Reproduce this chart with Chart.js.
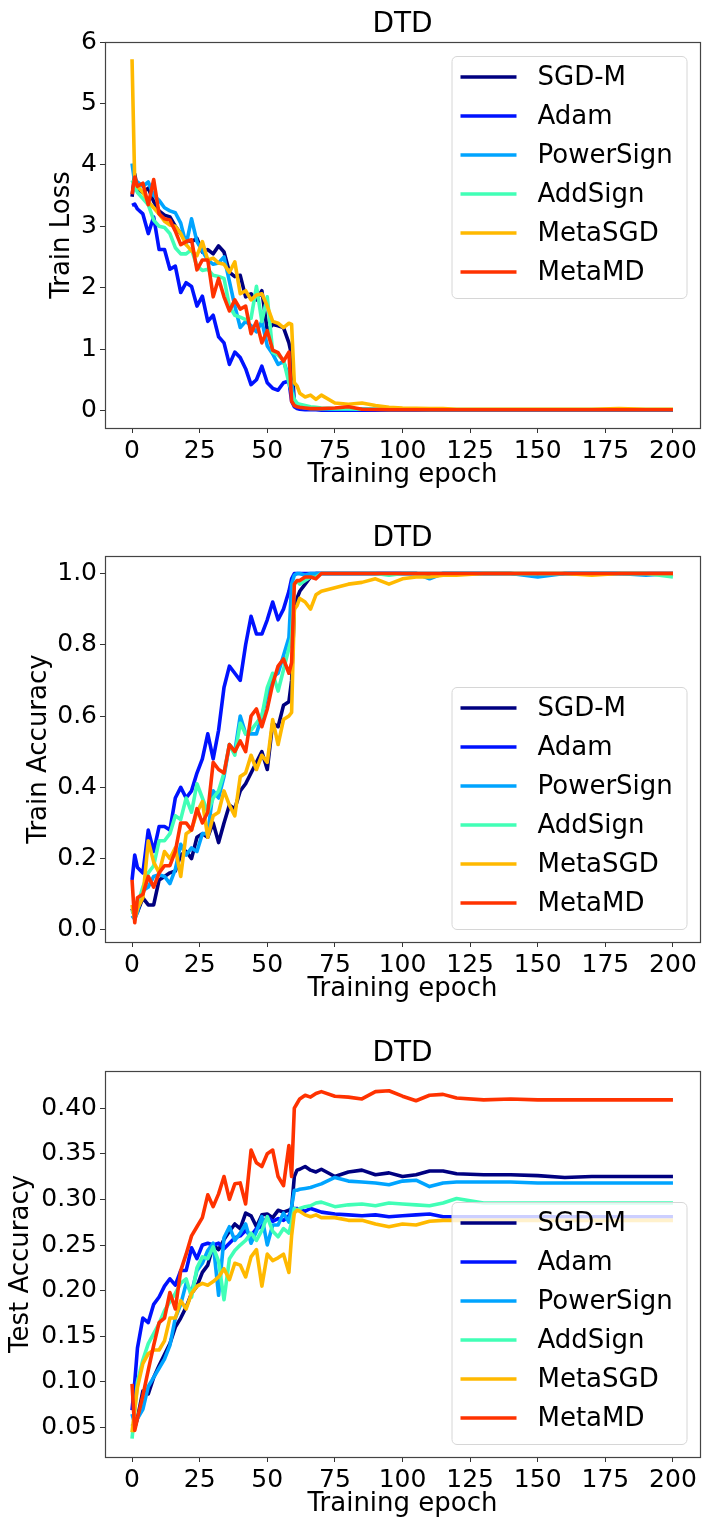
<!DOCTYPE html>
<html>
<head>
<meta charset="utf-8">
<script src="https://cdn.jsdelivr.net/npm/chart.js@4.4.1/dist/chart.umd.min.js"></script>
<style>
  body { margin: 0; background: #fff; width: 704px; height: 1520px; position: relative; overflow: hidden; }
  canvas { position: absolute; left: 0; }
</style>
</head>
<body>
<canvas id="loss" width="704" height="514" style="top:0;width:704px;height:514px"></canvas>
<canvas id="acc" width="704" height="514" style="top:514px;width:704px;height:514px"></canvas>
<canvas id="test" width="704" height="491" style="top:1029px;width:704px;height:491px"></canvas>
<script>
const names = ['SGD-M', 'Adam', 'PowerSign', 'AddSign', 'MetaSGD', 'MetaMD'];
const colors = ['#000080', '#0012ff', '#00a4ff', '#41ffb6', '#ffb900', '#ff3200'];

const epochs = [0,1,2,4,6,8,10,12,14,16, 18,20,22,24,26,28,30,32,34,36, 38,40,42,44,46,48,50,52,54,56,
  58,59,60,61,62,64,66,68,70,75, 80,85,90,95,100,105,110,115,120,130, 140,150,160,170,180,190,200];
const epochTicks = [0, 25, 50, 75, 100, 125, 150, 175, 200];

// train loss
const lossSGDM = [3.48,3.85,3.60,3.55,3.62,3.40,3.25,3.18,3.15,3.00, 2.88,2.78,2.75,2.80,2.58,2.62,2.55,2.68,2.58,2.25,
  2.18,2.20,1.85,1.90,1.80,1.95,1.30,1.40,1.38,1.35, 1.10,0.90,0.10,0.06,0.05,0.04,0.03,0.03,0.02,0.02,
  0.02,0.02,0.01,0.01,0.01,0.01,0.01,0.01,0.01,0.01, 0.01,0.01,0.01,0.01,0.01,0.01,0.01];
const lossAdam = [3.34,3.36,3.28,3.20,2.88,3.15,2.62,2.62,2.30,2.35, 1.92,2.08,2.02,1.70,1.86,1.45,1.55,1.20,1.10,0.75,
  0.95,0.86,0.68,0.42,0.50,0.72,0.45,0.36,0.33,0.45, 0.48,0.15,0.06,0.03,0.02,0.01,0.01,0.01,0.005,0.005,
  0.005,0.005,0.005,0.005,0.005,0.005,0.005,0.005,0.005,0.005, 0.005,0.005,0.005,0.005,0.005,0.005,0.005];
const lossPower = [4.02,3.70,3.72,3.65,3.72,3.50,3.42,3.30,3.25,3.22, 3.05,2.70,3.12,2.75,2.60,2.45,2.38,2.40,2.50,2.10,
  1.70,1.35,1.45,1.38,1.28,1.45,1.05,0.92,0.75,0.80, 0.55,0.45,0.15,0.08,0.06,0.04,0.03,0.03,0.02,0.02,
  0.02,0.02,0.02,0.01,0.01,0.01,0.01,0.01,0.01,0.01, 0.01,0.01,0.01,0.01,0.01,0.01,0.01];
const lossAdd = [3.75,3.65,3.55,3.45,3.35,3.10,3.00,2.98,2.88,2.65, 2.55,2.55,2.62,2.35,2.28,2.30,2.20,2.18,2.15,1.70,
  1.55,1.52,1.48,1.50,2.02,1.45,1.85,0.95,0.90,0.82, 0.45,0.30,0.18,0.12,0.10,0.08,0.06,0.05,0.04,0.03,
  0.03,0.02,0.02,0.02,0.02,0.02,0.015,0.015,0.015,0.015, 0.015,0.015,0.015,0.015,0.015,0.015,0.015];
const lossMetaSGD = [5.72,3.70,3.65,3.55,3.40,3.30,3.20,3.08,3.02,3.00, 2.88,2.70,2.60,2.52,2.75,2.45,2.48,2.40,2.38,2.25,
  2.42,1.90,1.95,1.80,1.88,1.90,1.70,1.45,1.42,1.35, 1.42,1.40,0.45,0.40,0.28,0.22,0.25,0.18,0.25,0.12,
  0.10,0.12,0.08,0.05,0.04,0.035,0.03,0.03,0.02,0.02, 0.02,0.02,0.02,0.02,0.03,0.02,0.02];
const lossMetaMD = [3.52,3.80,3.65,3.70,3.35,3.76,3.20,3.12,3.10,2.92, 2.70,2.75,2.78,2.29,2.45,2.45,1.85,2.15,1.85,1.62,
  1.80,1.65,1.70,1.25,1.45,1.10,1.30,0.98,0.94,0.80, 0.95,0.15,0.08,0.06,0.05,0.04,0.03,0.03,0.03,0.04,
  0.06,0.02,0.015,0.01,0.01,0.01,0.01,0.01,0.01,0.01, 0.01,0.01,0.01,0.01,0.01,0.01,0.01];
const lossTicks = [0, 1, 2, 3, 4, 5, 6];

// train accuracy
const accSGDM = [0.06,0.035,0.05,0.09,0.07,0.07,0.14,0.15,0.16,0.165, 0.21,0.22,0.20,0.26,0.27,0.26,0.30,0.245,0.30,0.35,
  0.34,0.39,0.41,0.44,0.47,0.50,0.45,0.58,0.57,0.63, 0.64,0.70,0.90,0.93,0.95,0.97,0.99,1.0,1.0,1.0,
  1.0,1.0,1.0,1.0,1.0,1.0,0.995,1.0,1.0,1.0, 1.0,0.995,1.0,1.0,1.0,1.0,1.0];
const accAdam = [0.14,0.21,0.175,0.16,0.28,0.22,0.29,0.29,0.28,0.37, 0.40,0.37,0.39,0.44,0.48,0.55,0.48,0.56,0.68,0.74,
  0.72,0.70,0.80,0.88,0.83,0.83,0.87,0.92,0.87,0.90, 0.95,0.985,1.0,1.0,1.0,1.0,1.0,1.0,1.0,1.0,
  1.0,1.0,1.0,1.0,1.0,1.0,1.0,1.0,1.0,1.0, 1.0,1.0,1.0,1.0,1.0,1.0,1.0];
const accPower = [0.04,0.03,0.05,0.11,0.12,0.15,0.155,0.15,0.13,0.17, 0.24,0.21,0.23,0.22,0.27,0.27,0.39,0.37,0.43,0.52,
  0.50,0.60,0.55,0.55,0.55,0.60,0.66,0.71,0.72,0.77, 0.82,0.97,0.995,1.0,1.0,0.995,1.0,1.0,1.0,1.0,
  1.0,1.0,1.0,1.0,1.0,1.0,0.985,1.0,1.0,1.0, 1.0,0.99,1.0,1.0,1.0,0.995,1.0];
const accAdd = [0.055,0.04,0.07,0.12,0.16,0.18,0.25,0.25,0.27,0.32, 0.31,0.37,0.33,0.41,0.37,0.33,0.37,0.39,0.44,0.52,
  0.49,0.58,0.55,0.56,0.58,0.60,0.68,0.72,0.67,0.73, 0.79,0.82,0.97,0.98,0.97,0.98,0.99,0.99,1.0,1.0,
  1.0,1.0,1.0,0.995,1.0,1.0,1.0,1.0,1.0,1.0, 1.0,1.0,1.0,1.0,1.0,1.0,0.99];
const accMetaSGD = [0.07,0.03,0.06,0.09,0.25,0.19,0.16,0.22,0.20,0.23, 0.15,0.27,0.28,0.33,0.36,0.26,0.32,0.33,0.39,0.35,
  0.32,0.43,0.44,0.49,0.45,0.49,0.47,0.59,0.52,0.59, 0.60,0.61,0.90,0.91,0.93,0.92,0.90,0.94,0.95,0.96,
  0.97,0.975,0.985,0.97,0.985,0.99,0.99,0.995,0.995,1.0, 1.0,1.0,1.0,0.995,1.0,1.0,1.0];
const accMetaMD = [0.14,0.02,0.09,0.10,0.15,0.12,0.16,0.18,0.18,0.22, 0.30,0.30,0.28,0.34,0.30,0.33,0.47,0.45,0.44,0.52,
  0.50,0.53,0.50,0.60,0.62,0.57,0.62,0.69,0.74,0.76, 0.72,0.75,0.97,0.98,0.98,0.99,0.99,0.985,1.0,1.0,
  1.0,1.0,1.0,1.0,1.0,1.0,1.0,1.0,1.0,1.0, 1.0,1.0,1.0,1.0,1.0,1.0,1.0];
const accTicks = [0, 0.2, 0.4, 0.6, 0.8, 1.0];

// test accuracy
const testSGDM = [0.054,0.05,0.06,0.09,0.087,0.105,0.118,0.13,0.142,0.16, 0.17,0.182,0.197,0.205,0.22,0.228,0.25,0.245,0.256,0.265,
  0.273,0.268,0.285,0.282,0.27,0.283,0.284,0.28,0.288,0.286, 0.288,0.29,0.325,0.332,0.333,0.336,0.332,0.330,0.333,0.325,
  0.330,0.332,0.327,0.329,0.325,0.327,0.331,0.331,0.328,0.327, 0.327,0.326,0.324,0.325,0.325,0.325,0.325];
const testAdam = [0.069,0.10,0.137,0.17,0.165,0.185,0.193,0.205,0.213,0.206, 0.222,0.222,0.247,0.235,0.25,0.252,0.25,0.252,0.246,0.252,
  0.258,0.26,0.266,0.26,0.268,0.27,0.281,0.276,0.279,0.277, 0.282,0.288,0.29,0.29,0.289,0.287,0.29,0.288,0.286,0.284,
  0.283,0.282,0.283,0.281,0.282,0.283,0.284,0.281,0.281,0.281, 0.281,0.281,0.281,0.281,0.281,0.281,0.281];
const testPower = [0.065,0.054,0.06,0.07,0.095,0.105,0.115,0.125,0.14,0.17, 0.185,0.208,0.198,0.222,0.23,0.244,0.252,0.195,0.258,0.27,
  0.255,0.263,0.273,0.252,0.265,0.281,0.25,0.272,0.272,0.285, 0.275,0.292,0.31,0.31,0.311,0.312,0.313,0.315,0.317,0.324,
  0.320,0.319,0.318,0.316,0.32,0.321,0.314,0.318,0.319,0.319, 0.319,0.318,0.318,0.318,0.318,0.318,0.318];
const testAdd = [0.038,0.069,0.10,0.124,0.142,0.153,0.164,0.178,0.188,0.197, 0.208,0.213,0.193,0.225,0.237,0.235,0.248,0.232,0.19,0.235,
  0.244,0.25,0.255,0.263,0.255,0.266,0.281,0.265,0.259,0.268, 0.263,0.275,0.29,0.288,0.29,0.292,0.293,0.296,0.297,0.292,
  0.294,0.295,0.293,0.296,0.295,0.294,0.293,0.296,0.301,0.296, 0.296,0.296,0.296,0.296,0.296,0.296,0.296];
const testMetaSGD = [0.045,0.07,0.094,0.12,0.131,0.135,0.135,0.145,0.17,0.17, 0.189,0.18,0.197,0.205,0.208,0.206,0.21,0.215,0.224,0.212,
  0.23,0.228,0.215,0.237,0.245,0.205,0.24,0.233,0.236,0.24, 0.22,0.26,0.285,0.288,0.287,0.283,0.281,0.283,0.28,0.28,
  0.277,0.277,0.273,0.27,0.273,0.272,0.276,0.277,0.277,0.277, 0.277,0.277,0.277,0.277,0.277,0.277,0.277];
const testMetaMD = [0.098,0.047,0.06,0.085,0.113,0.14,0.165,0.17,0.198,0.18, 0.222,0.24,0.26,0.27,0.28,0.305,0.292,0.306,0.325,0.30,
  0.317,0.318,0.295,0.354,0.34,0.336,0.35,0.354,0.325,0.315, 0.359,0.325,0.40,0.405,0.41,0.414,0.412,0.416,0.418,0.413,
  0.412,0.410,0.418,0.419,0.413,0.408,0.414,0.415,0.411,0.409, 0.410,0.409,0.409,0.409,0.409,0.409,0.409];
const testTicks = [0.05, 0.10, 0.15, 0.20, 0.25, 0.30, 0.35, 0.40];

Chart.defaults.font.family = '"DejaVu Sans", sans-serif';
Chart.defaults.color = '#000';

// matplotlib style frame round the axes
const frame = {
  id: 'frame',
  afterDatasetsDraw(chart) {
    const { ctx, chartArea: a } = chart;
    ctx.save();
    ctx.strokeStyle = '#444';
    ctx.lineWidth = 1.2;
    ctx.strokeRect(Math.round(a.left) + 0.5, Math.round(a.top) + 0.5, Math.round(a.right - a.left), Math.round(a.bottom - a.top));
    ctx.restore();
  }
};

// legend box inside the axes
const boxLegend = {
  id: 'boxLegend',
  afterDraw(chart, args, opts) {
    const { ctx, chartArea: a } = chart;
    const w = 235, h = 242;
    const x = a.right - 13.5 - w;
    const y = opts.where === 'top' ? a.top + 14 : a.bottom - 13 - h;
    ctx.save();
    ctx.beginPath();
    ctx.roundRect(x + 0.5, y + 0.5, w, h, 5);
    ctx.fillStyle = 'rgba(255,255,255,0.8)';
    ctx.fill();
    ctx.strokeStyle = '#d6d6d6';
    ctx.lineWidth = 1;
    ctx.stroke();
    ctx.font = '26px "DejaVu Sans"';
    ctx.textBaseline = 'middle';
    chart.data.datasets.forEach((ds, i) => {
      const cy = y + 21 + i * 39;
      ctx.beginPath();
      ctx.moveTo(x + 9, cy);
      ctx.lineTo(x + 65, cy);
      ctx.strokeStyle = ds.borderColor;
      ctx.lineWidth = 3.5;
      ctx.stroke();
      ctx.fillStyle = '#000';
      ctx.fillText(ds.label, x + 86, cy + 1);
    });
    ctx.restore();
  }
};

function makePlot(id, series, o) {
  const datasets = series.map((vals, i) => ({
    label: names[i],
    data: epochs.map((e, j) => ({ x: e, y: vals[j] })),
    borderColor: colors[i],
    borderWidth: 3.6,
    pointRadius: 0,
    tension: 0,
    fill: false,
    borderJoinStyle: 'round',
    order: series.length - i
  }));
  const tickStyle = { display: true, drawOnChartArea: false, drawTicks: true, tickLength: 5, color: '#333' };
  return new Chart(document.getElementById(id), {
    type: 'line',
    data: { datasets },
    options: {
      responsive: false,
      animation: false,
      events: [],
      layout: { padding: { top: 0, left: 0, right: 4, bottom: o.bottomPad } },
      plugins: {
        legend: { display: false },
        tooltip: { enabled: false },
        title: {
          display: true, text: 'DTD', fullSize: false,
          font: { size: 28, weight: 'normal' }, padding: { top: 8, bottom: 0.4 }
        },
        boxLegend: { where: o.legendAt }
      },
      scales: {
        x: {
          type: 'linear', min: -10, max: 210,
          afterBuildTicks: s => { s.ticks = epochTicks.map(v => ({ value: v })); },
          afterFit: s => { s.height = 63; },
          ticks: { font: { size: 25 }, padding: 3, maxRotation: 0, autoSkip: false },
          grid: tickStyle,
          border: { display: false },
          title: { display: true, text: 'Training epoch', font: { size: 26 }, padding: { top: 0, bottom: 0 } }
        },
        y: {
          type: 'linear', min: o.yMin, max: o.yMax,
          afterBuildTicks: s => { s.ticks = o.yTicks.map(v => ({ value: v })); },
          afterFit: s => { s.width = 105; },
          ticks: { font: { size: 25 }, padding: 3, autoSkip: false, callback: v => v.toFixed(o.digits) },
          grid: tickStyle,
          border: { display: false },
          title: { display: true, text: o.yLabel, font: { size: 26 }, padding: { top: o.labelPad, bottom: 0 } }
        }
      }
    },
    plugins: [frame, boxLegend]
  });
}

makePlot('loss', [lossSGDM, lossAdam, lossPower, lossAdd, lossMetaSGD, lossMetaMD], {
  yMin: -0.286, yMax: 6.0, yTicks: lossTicks, digits: 0, yLabel: 'Train Loss', labelPad: 47, legendAt: 'top', bottomPad: 23
});
makePlot('acc', [accSGDM, accAdam, accPower, accAdd, accMetaSGD, accMetaMD], {
  yMin: -0.034, yMax: 1.049, yTicks: accTicks, digits: 1, yLabel: 'Train Accuracy', labelPad: 24, legendAt: 'bottom', bottomPad: 23
});
makePlot('test', [testSGDM, testAdam, testPower, testAdd, testMetaSGD, testMetaMD], {
  yMin: 0.0178, yMax: 0.4406, yTicks: testTicks, digits: 2, yLabel: 'Test Accuracy', labelPad: 6, legendAt: 'bottom', bottomPad: 0
});
</script>
</body>
</html>
